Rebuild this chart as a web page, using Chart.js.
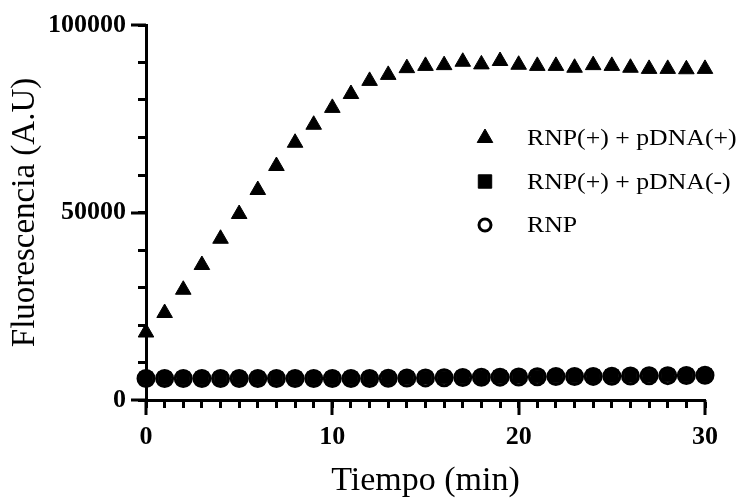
<!DOCTYPE html>
<html>
<head>
<meta charset="utf-8">
<script src="https://cdn.jsdelivr.net/npm/chart.js@4.4.0/dist/chart.umd.min.js"></script>
<style>
  html, body { margin: 0; padding: 0; background: #fff; }
  #wrap { width: 740px; height: 498px; }
</style>
</head>
<body>
<div id="wrap"><canvas id="chart" width="740" height="498"></canvas></div>
<script>
// Tiempo (min)
const tiempo = [0, 1, 2, 3, 4, 5, 6, 7, 8, 9, 10, 11, 12, 13, 14, 15, 16, 17, 18, 19, 20, 21, 22, 23, 24, 25, 26, 27, 28, 29, 30];

// Fluorescencia (A.U) por condición
const rnpPdnaPos = [18000, 23200, 29400, 36000, 43000, 49600, 56000, 62400, 68600, 73400, 77900, 81600, 85100, 86700, 88500, 89100, 89300, 90200, 89500, 90400, 89400, 89100, 89100, 88600, 89300, 89100, 88600, 88300, 88300, 88200, 88300];
const rnpPdnaNeg = [5800, 5800, 5800, 5800, 5800, 5800, 5800, 5800, 5800, 5800, 5800, 5800, 5800, 5850, 5900, 5950, 6000, 6050, 6100, 6150, 6200, 6250, 6300, 6300, 6350, 6400, 6450, 6500, 6550, 6600, 6650];
const rnpSolo = [5750, 5750, 5750, 5750, 5750, 5750, 5750, 5750, 5750, 5750, 5750, 5750, 5750, 5800, 5850, 5900, 5950, 6000, 6050, 6100, 6150, 6200, 6250, 6250, 6300, 6350, 6400, 6450, 6500, 6550, 6600];

const etiquetas = ['RNP(+) + pDNA(+)', 'RNP(+) + pDNA(-)', 'RNP'];
const xMayores = [0, 10, 20, 30];
const yMayores = [0, 50000, 100000];

const serif = "'Liberation Serif', 'Times New Roman', serif";

function puntos(valores) {
  return tiempo.map((t, i) => ({ x: t, y: valores[i] }));
}

// ticks mayores mas largos
const ticksMayores = {
  id: 'ticksMayores',
  afterDraw(chart) {
    const ctx = chart.ctx;
    const sx = chart.scales.x, sy = chart.scales.y;
    ctx.save();
    ctx.strokeStyle = '#000';
    ctx.lineWidth = 3;
    ctx.beginPath();
    xMayores.forEach(v => {
      const px = Math.round(sx.getPixelForValue(v));
      ctx.moveTo(px, sx.top);
      ctx.lineTo(px, sx.top + 15);
    });
    yMayores.forEach(v => {
      const py = Math.round(sy.getPixelForValue(v));
      ctx.moveTo(sy.right, py);
      ctx.lineTo(sy.right - 15, py);
    });
    ctx.stroke();
    ctx.restore();
  }
};

// leyenda dentro del area
const leyendaInterna = {
  id: 'leyendaInterna',
  afterDraw(chart) {
    const ctx = chart.ctx;
    ctx.save();
    chart.data.datasets.forEach((ds, i) => {
      const y = 138 + i * 43.5;
      ctx.fillStyle = ds.legendFill;
      ctx.strokeStyle = '#000';
      ctx.lineWidth = ds.legendBorder;
      Chart.helpers.drawPoint(ctx, {
        pointStyle: ds.pointStyle,
        radius: ds.legendRadius,
        borderWidth: ds.legendBorder,
        rotation: 0
      }, 485, y);
      ctx.save();
      ctx.translate(527, y);
      ctx.scale(1.12, 1);
      ctx.fillStyle = '#000';
      ctx.font = '23px ' + serif;
      ctx.textBaseline = 'middle';
      ctx.textAlign = 'left';
      ctx.fillText(ds.label, 0, 1);
      ctx.restore();
    });
    ctx.restore();
  }
};

new Chart(document.getElementById('chart'), {
  type: 'scatter',
  data: {
    datasets: [
      {
        label: etiquetas[0],
        data: puntos(rnpPdnaPos),
        pointStyle: 'triangle',
        pointRadius: 9,
        pointBackgroundColor: '#000',
        pointBorderColor: '#000',
        pointBorderWidth: 1,
        legendFill: '#000', legendRadius: 9, legendBorder: 1,
        clip: false
      },
      {
        label: etiquetas[1],
        data: puntos(rnpPdnaNeg),
        pointStyle: 'rect',
        pointRadius: 9,
        pointBackgroundColor: '#000',
        pointBorderColor: '#000',
        pointBorderWidth: 1,
        legendFill: '#000', legendRadius: 9.5, legendBorder: 1,
        clip: false
      },
      {
        label: etiquetas[2],
        data: puntos(rnpSolo),
        pointStyle: 'circle',
        pointRadius: 8,
        pointBackgroundColor: 'rgba(0,0,0,0)',
        pointBorderColor: '#000',
        pointBorderWidth: 3,
        legendFill: '#fff', legendRadius: 6, legendBorder: 3,
        clip: false
      }
    ]
  },
  options: {
    responsive: false,
    animation: false,
    events: [],
    layout: { padding: { top: 25, right: 35, left: 0, bottom: 0 } },
    plugins: {
      legend: { display: false },
      tooltip: { enabled: false }
    },
    scales: {
      x: {
        type: 'linear',
        min: 0,
        max: 30,
        afterFit(scale) { scale.height = 98; },
        border: { display: true, color: '#000', width: 3 },
        grid: { drawOnChartArea: false, drawTicks: true, tickLength: 8, tickWidth: 3, tickColor: '#000' },
        ticks: {
          stepSize: 1,
          autoSkip: false,
          maxRotation: 0,
          padding: 14,
          color: '#000',
          font: { family: serif, size: 26, weight: 'bold' },
          callback: v => (xMayores.includes(v) ? v : '')
        },
        title: {
          display: true,
          text: 'Tiempo (min)',
          color: '#000',
          font: { family: serif, size: 34, lineHeight: 1 },
          padding: { top: 0, bottom: 0 }
        }
      },
      y: {
        type: 'linear',
        min: 0,
        max: 100000,
        afterFit(scale) { scale.width = 146; },
        border: { display: true, color: '#000', width: 3 },
        grid: { drawOnChartArea: false, drawTicks: true, tickLength: 8, tickWidth: 3, tickColor: '#000' },
        ticks: {
          stepSize: 10000,
          autoSkip: false,
          padding: 12,
          color: '#000',
          font: { family: serif, size: 26, weight: 'bold', lineHeight: 1 },
          callback: v => (yMayores.includes(v) ? String(v) : '')
        },
        title: {
          display: true,
          text: 'Fluorescencia (A.U)',
          color: '#000',
          font: { family: serif, size: 33, lineHeight: 1 },
          padding: { top: 9, bottom: 0 }
        }
      }
    }
  },
  plugins: [ticksMayores, leyendaInterna]
});
</script>
</body>
</html>
